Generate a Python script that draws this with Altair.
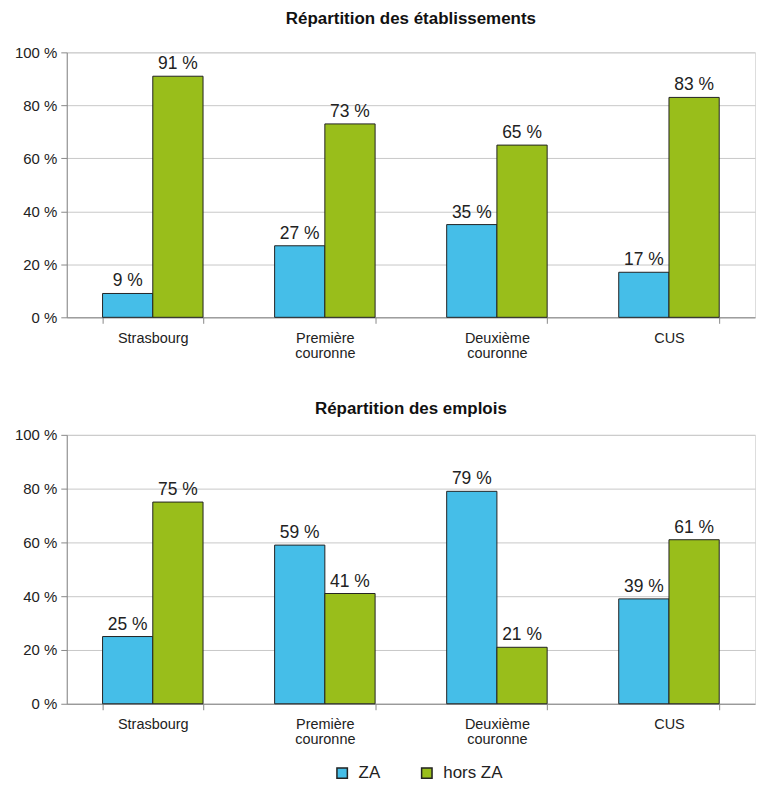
import altair as alt
import pandas as pd

categories = ["Strasbourg", "Première couronne", "Deuxième couronne", "CUS"]
series = ["ZA", "hors ZA"]
etab_za = [9, 27, 35, 17]
etab_hors = [91, 73, 65, 83]
empl_za = [25, 59, 79, 39]
empl_hors = [75, 41, 21, 61]
y_ticks = [0, 20, 40, 60, 80, 100]
colors = ["#45BEE8", "#99BE1B"]


def make_df(za, hors):
    rows = []
    for c, a, b in zip(categories, za, hors):
        rows.append({"cat": c, "serie": "ZA", "val": a})
        rows.append({"cat": c, "serie": "hors ZA", "val": b})
    return pd.DataFrame(rows)


FONT = "Liberation Sans"


def panel(df, title, h, toff):
    base = alt.Chart(df).encode(
        x=alt.X("cat:N", sort=categories,
                scale=alt.Scale(paddingInner=0.416, paddingOuter=0.208),
                axis=alt.Axis(title=None, labelAngle=0, tickBand="extent",
                              labelExpr="split(datum.label, ' ')",
                              labelFontSize=14.5, labelColor="#222", labelFont=FONT,
                              labelPadding=8, tickSize=6, tickColor="#888",
                              domainColor="#888", grid=False, labelLineHeight=15)),
        xOffset=alt.XOffset("serie:N", sort=series),
        y=alt.Y("val:Q", scale=alt.Scale(domain=[0, 100], nice=False),
                axis=alt.Axis(title=None, values=y_ticks,
                              labelExpr="datum.value + ' %'",
                              labelFontSize=15, labelColor="#222", labelFont=FONT,
                              tickSize=6, tickColor="#888", domainColor="#888",
                              gridColor="#c8c8c8", labelPadding=4)),
    )
    bars = base.mark_bar(stroke="#222", strokeWidth=1).encode(
        color=alt.Color("serie:N", sort=series,
                        scale=alt.Scale(domain=series, range=colors),
                        legend=alt.Legend(title=None, orient="none", direction="horizontal",
                                          legendX=268, legendY=715,
                                          symbolType="square", symbolSize=110,
                                          symbolStrokeColor="#222", symbolStrokeWidth=1.5,
                                          labelFontSize=17, labelFont=FONT, labelColor="#222",
                                          labelOffset=8, columnPadding=38))
    )
    labels = base.mark_text(dy=-12, fontSize=17.5, font=FONT, color="#222").encode(
        text=alt.Text("label:N")
    ).transform_calculate(label="datum.val + ' %'")
    return alt.layer(bars, labels).properties(
        width=691, height=h,
        title=alt.TitleParams(title, fontSize=17, font=FONT, fontWeight="bold",
                              color="#111", anchor="middle", offset=toff),
    )


top = panel(make_df(etab_za, etab_hors), "Répartition des établissements", 266, 17)
bottom = panel(make_df(empl_za, empl_hors), "Répartition des emplois", 270, 10)

chart = alt.vconcat(top, bottom, spacing=39).configure_view(stroke=None).configure(
    font=FONT
).properties(padding={"left": 5, "top": 0, "right": 0, "bottom": 0})

chart.save("out.html", embed_options={"renderer": "svg", "actions": False})
